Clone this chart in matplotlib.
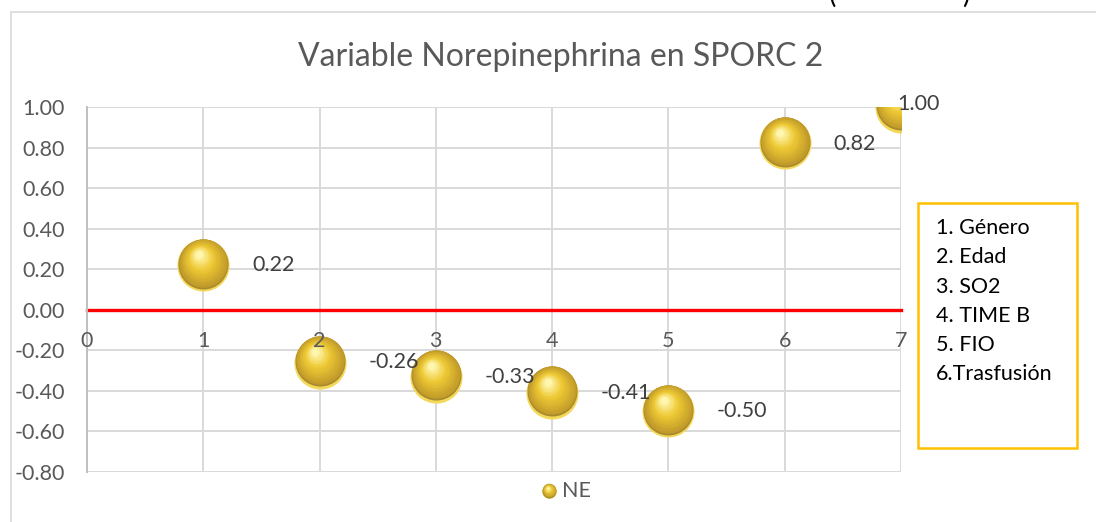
import matplotlib
matplotlib.use("Agg")
import matplotlib.pyplot as plt
import matplotlib.transforms as mtransforms
from matplotlib.patches import Rectangle
from matplotlib.colors import to_rgb
import numpy as np

plt.rcParams["font.family"] = ["Lato", "DejaVu Sans"]

# data
x_vals = [1, 2, 3, 4, 5, 6, 7]
y_vals = [0.22, -0.26, -0.33, -0.41, -0.50, 0.82, 1.00]
labels = ["0.22", "-0.26", "-0.33", "-0.41", "-0.50", "0.82", "1.00"]
y_ticks = [-0.8, -0.6, -0.4, -0.2, 0.0, 0.2, 0.4, 0.6, 0.8, 1.0]
x_ticks = [0, 1, 2, 3, 4, 5, 6, 7]
key_lines = ["1. Género", "2. Edad", "3. SO2", "4. TIME B", "5. FIO", "6.Trasfusión"]
title = "Variable Norepinephrina en SPORC 2"
series_name = "NE"

GREY_TXT = "#595959"
GRID = "#D9D9D9"


def mix(c1, c2, t):
    a, b = np.array(to_rgb(c1)), np.array(to_rgb(c2))
    return tuple(a + (b - a) * t)


def draw_spheres(ax, xs, ys, d, transform, fig, zorder=3, clip=True):
    """Fake 3D golden spheres built from stacked scatter layers."""
    def layer(dx, dy, diam, color):
        tr = transform + mtransforms.ScaledTranslation(dx / 72, dy / 72, fig.dpi_scale_trans)
        ax.scatter(xs, ys, s=diam ** 2, color=color, linewidths=0,
                   transform=tr, zorder=zorder, clip_on=clip)
    # bottom reflection rim and dark shade
    layer(0, 0, d, "#F3D85A")
    layer(0, d * 0.03, d * 0.96, "#A88A2C")
    n = 16
    for i in range(n):
        t = i / (n - 1)
        diam = d * (0.93 - 0.80 * t)
        shift = d * 0.16 * t
        if t < 0.55:
            col = mix("#C29C2A", "#EEC934", t / 0.55)
        else:
            col = mix("#EEC934", "#FFF7B0", (t - 0.55) / 0.45)
        layer(-shift * 0.55, d * 0.05 + shift, diam, col)


fig = plt.figure(figsize=(10.96, 5.22), dpi=100)
ax = fig.add_axes([87 / 1096, 1 - 472 / 522, 814 / 1096, 365 / 522])

ax.set_xlim(0, 7)
ax.set_ylim(-0.8, 1.0)
ax.set_xticks(x_ticks)
ax.set_yticks(y_ticks)
ax.set_yticklabels([f"{v:.2f}" for v in y_ticks])
ax.grid(True, axis="y", color=GRID, linewidth=1.4)
ax.set_axisbelow(True)
for xv in x_ticks[1:]:
    ax.axvline(xv, color=GRID, linewidth=1.4, zorder=0.5)
# x tick labels sit on top of the bubbles, as in the reference
ax.xaxis.set_zorder(6)

for s in ["top", "right"]:
    ax.spines[s].set_visible(False)
ax.spines["left"].set_color("#BFBFBF")
ax.spines["left"].set_linewidth(1.4)
ax.spines["bottom"].set_position(("data", 0))
ax.spines["bottom"].set_color("#FF0000")
ax.spines["bottom"].set_linewidth(2.4)
ax.spines["bottom"].set_zorder(2)
ax.tick_params(axis="both", length=0, labelsize=15.5, labelcolor=GREY_TXT)
ax.tick_params(axis="y", pad=16)
ax.tick_params(axis="x", pad=15)

draw_spheres(ax, x_vals, y_vals, 37.5, ax.transData, fig)

for i, (xv, yv, lab) in enumerate(zip(x_vals, y_vals, labels)):
    off = (35, 0) if i < len(x_vals) - 1 else (-3, 2)
    ax.annotate(lab, (xv, yv), xytext=off, textcoords="offset points",
                ha="left", va="center", fontsize=15.5, color="#404040",
                annotation_clip=False, zorder=7)

# series legend below the plot
draw_spheres(ax, [0.5676], [-0.052], 10.5, ax.transAxes, fig, zorder=5, clip=False)
ax.text(0.5835, -0.052, series_name, transform=ax.transAxes, ha="left", va="center",
        fontsize=15.5, color=GREY_TXT)

# variable key box
fig.add_artist(Rectangle((918 / 1096, 1 - 448 / 522), 159 / 1096, 245 / 522,
                         transform=fig.transFigure, fill=False, ec="#FFC000", lw=1.8))
for k, line in enumerate(key_lines):
    fig.text(936 / 1096, 1 - (228 + 29.3 * k) / 522, line, ha="left", va="center",
             fontsize=15.5, color="black")

fig.text(560.5 / 1096, 1 - 57 / 522, title, ha="center", va="center",
         fontsize=23, color=GREY_TXT)

# chart area frame
fig.add_artist(Rectangle((11 / 1096, -0.1), 1.2, (522 - 12) / 522 + 0.1,
                         transform=fig.transFigure, fill=False, ec=GRID, lw=1.2))

# text cut off at the top edge of the screenshot
fig.text(829 / 1096, 0.995, "(", ha="left", va="baseline", fontsize=20, color="black")
fig.text(962 / 1096, 0.995, ")", ha="left", va="baseline", fontsize=20, color="black")

fig.savefig("out.png", dpi=100)
